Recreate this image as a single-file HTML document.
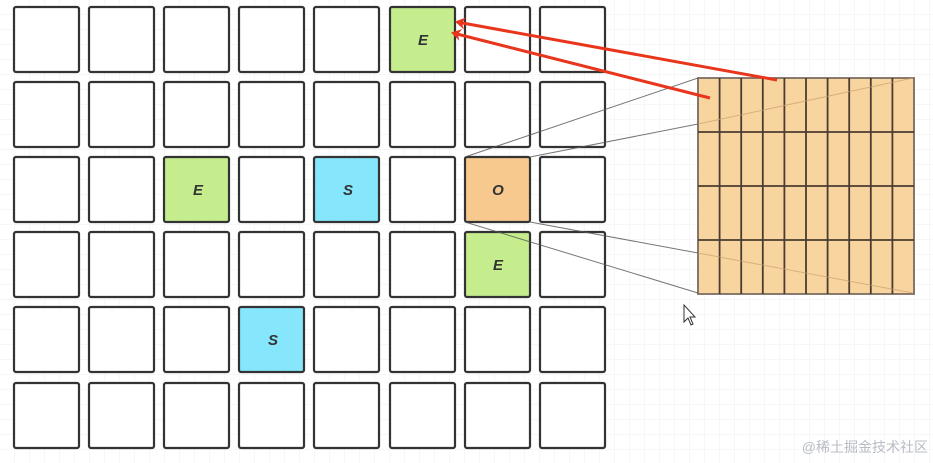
<!DOCTYPE html>
<html><head><meta charset="utf-8"><style>
html,body{margin:0;padding:0;background:#fff;}
svg{display:block}
</style></head><body>
<svg width="933" height="463" viewBox="0 0 933 463" xmlns="http://www.w3.org/2000/svg">
<defs>
<pattern id="g" width="15" height="15" patternUnits="userSpaceOnUse">
<path d="M15 0V15M0 15H15" stroke="#eef0f2" stroke-width="1" fill="none"/>
</pattern>
<marker id="ah" markerWidth="12" markerHeight="12" refX="8" refY="6" orient="auto" markerUnits="userSpaceOnUse">
<path d="M0,0 L10,6 L0,12 L3,6 z" fill="#e8351c"/>
</marker>
</defs>
<rect width="933" height="463" fill="url(#g)"/>
<g stroke="#333" stroke-width="2.2">
<rect x="14" y="7" width="65" height="65" rx="2" fill="#fff"/><rect x="89" y="7" width="65" height="65" rx="2" fill="#fff"/><rect x="164" y="7" width="65" height="65" rx="2" fill="#fff"/><rect x="239" y="7" width="65" height="65" rx="2" fill="#fff"/><rect x="314" y="7" width="65" height="65" rx="2" fill="#fff"/><rect x="390" y="7" width="65" height="65" rx="2" fill="#c5ed8e"/><rect x="465" y="7" width="65" height="65" rx="2" fill="#fff"/><rect x="540" y="7" width="65" height="65" rx="2" fill="#fff"/>
<rect x="14" y="82" width="65" height="65" rx="2" fill="#fff"/><rect x="89" y="82" width="65" height="65" rx="2" fill="#fff"/><rect x="164" y="82" width="65" height="65" rx="2" fill="#fff"/><rect x="239" y="82" width="65" height="65" rx="2" fill="#fff"/><rect x="314" y="82" width="65" height="65" rx="2" fill="#fff"/><rect x="390" y="82" width="65" height="65" rx="2" fill="#fff"/><rect x="465" y="82" width="65" height="65" rx="2" fill="#fff"/><rect x="540" y="82" width="65" height="65" rx="2" fill="#fff"/>
<rect x="14" y="157" width="65" height="65" rx="2" fill="#fff"/><rect x="89" y="157" width="65" height="65" rx="2" fill="#fff"/><rect x="164" y="157" width="65" height="65" rx="2" fill="#c5ed8e"/><rect x="239" y="157" width="65" height="65" rx="2" fill="#fff"/><rect x="314" y="157" width="65" height="65" rx="2" fill="#86e6fb"/><rect x="390" y="157" width="65" height="65" rx="2" fill="#fff"/><rect x="465" y="157" width="65" height="65" rx="2" fill="#f7c98f"/><rect x="540" y="157" width="65" height="65" rx="2" fill="#fff"/>
<rect x="14" y="232" width="65" height="65" rx="2" fill="#fff"/><rect x="89" y="232" width="65" height="65" rx="2" fill="#fff"/><rect x="164" y="232" width="65" height="65" rx="2" fill="#fff"/><rect x="239" y="232" width="65" height="65" rx="2" fill="#fff"/><rect x="314" y="232" width="65" height="65" rx="2" fill="#fff"/><rect x="390" y="232" width="65" height="65" rx="2" fill="#fff"/><rect x="465" y="232" width="65" height="65" rx="2" fill="#c5ed8e"/><rect x="540" y="232" width="65" height="65" rx="2" fill="#fff"/>
<rect x="14" y="307" width="65" height="65" rx="2" fill="#fff"/><rect x="89" y="307" width="65" height="65" rx="2" fill="#fff"/><rect x="164" y="307" width="65" height="65" rx="2" fill="#fff"/><rect x="239" y="307" width="65" height="65" rx="2" fill="#86e6fb"/><rect x="314" y="307" width="65" height="65" rx="2" fill="#fff"/><rect x="390" y="307" width="65" height="65" rx="2" fill="#fff"/><rect x="465" y="307" width="65" height="65" rx="2" fill="#fff"/><rect x="540" y="307" width="65" height="65" rx="2" fill="#fff"/>
<rect x="14" y="383" width="65" height="65" rx="2" fill="#fff"/><rect x="89" y="383" width="65" height="65" rx="2" fill="#fff"/><rect x="164" y="383" width="65" height="65" rx="2" fill="#fff"/><rect x="239" y="383" width="65" height="65" rx="2" fill="#fff"/><rect x="314" y="383" width="65" height="65" rx="2" fill="#fff"/><rect x="390" y="383" width="65" height="65" rx="2" fill="#fff"/><rect x="465" y="383" width="65" height="65" rx="2" fill="#fff"/><rect x="540" y="383" width="65" height="65" rx="2" fill="#fff"/>
</g>
<g font-family="Liberation Sans, sans-serif" font-style="italic" font-weight="bold" font-size="15" fill="#333" text-anchor="middle">
<text x="423" y="45">E</text><text x="198" y="195">E</text><text x="348" y="195">S</text><text x="498" y="195">O</text><text x="498" y="270">E</text><text x="273" y="345">S</text>
</g>
<rect x="698" y="78" width="216" height="216" fill="#f8d49f"/>
<g stroke="#4a3c32" stroke-width="1.8" fill="none">
<path d="M698 78H914V294H698Z" stroke="#7a6a5e"/>
<path d="M719.6 78V294M741.2 78V294M762.8 78V294M784.4 78V294M806 78V294M827.6 78V294M849.2 78V294M870.8 78V294M892.4 78V294"/>
<path d="M698 132H914M698 186H914M698 240H914"/>
</g>
<g stroke="#555" stroke-width="1" opacity="0.8">
<path d="M465 157L698 78M530 157L698 124"/>
<path d="M465 222L698 293M530 222L698 253"/>
</g>
<g stroke="#c9a070" stroke-width="1" opacity="0.7">
<path d="M698 124L913 78M698 253L913 293"/>
</g>
<g stroke="#e8351c" stroke-width="3" fill="none">
<path d="M777 80L457 22" marker-end="url(#ah)"/>
<path d="M710 98L453 33" marker-end="url(#ah)"/>
</g>
<path d="M684 305L684 322L688 318L691 325L693 324L690 317L695 317Z" fill="#fff" stroke="#333" stroke-width="1"/>
<text x="928" y="452" text-anchor="end" font-family="Liberation Sans, Noto Sans CJK SC, sans-serif" font-size="14" fill="#b8bcc4">@稀土掘金技术社区</text>
</svg>
</body></html>
